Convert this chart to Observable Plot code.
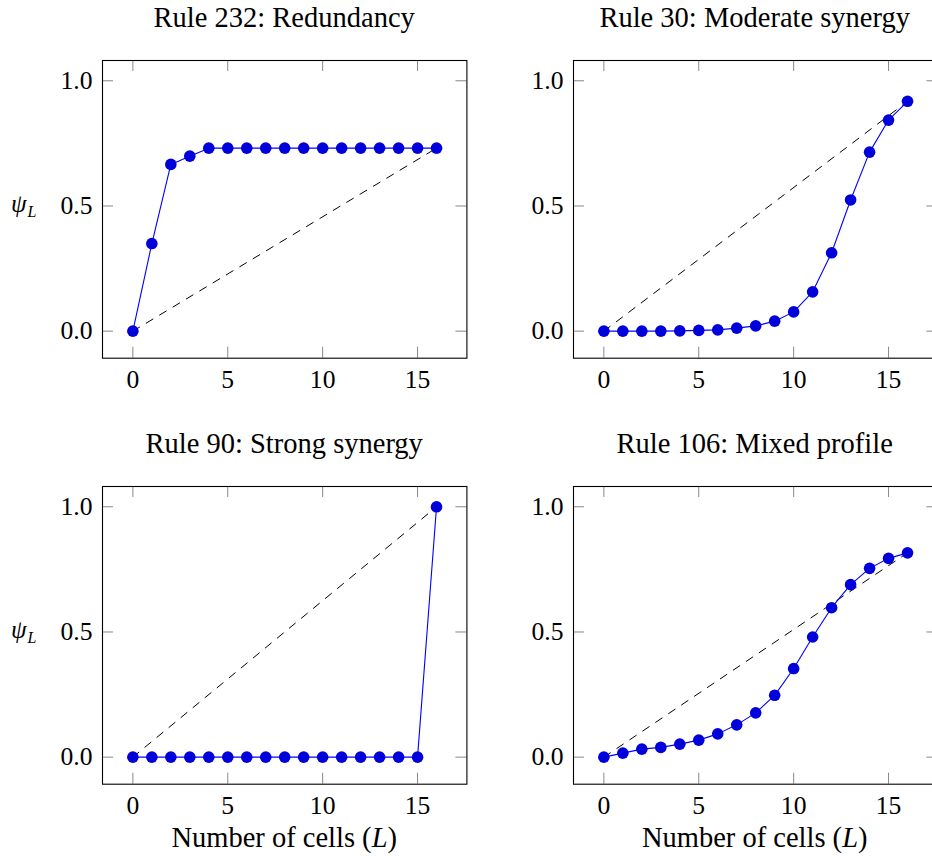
<!DOCTYPE html>
<html><head><meta charset="utf-8">
<script src="https://cdn.jsdelivr.net/npm/d3@7"></script>
<script src="https://cdn.jsdelivr.net/npm/@observablehq/plot@0.6"></script>
<style>
html,body{margin:0;padding:0;background:#fff;}
#root{position:relative;width:932px;height:856px;overflow:hidden;font-family:"Liberation Serif",serif;color:#000;}
.panel{position:absolute;}
.lbl{position:absolute;line-height:1;white-space:nowrap;}
</style></head><body><div id="root"></div>
<script>
// ---- data ----
const cells   = [0, 1, 2, 3, 4, 5, 6, 7, 8, 9, 10, 11, 12, 13, 14, 15, 16];
const rule232 = [0, 0.350, 0.666, 0.699, 0.731, 0.731, 0.731, 0.731, 0.731, 0.731, 0.731, 0.731, 0.731, 0.731, 0.731, 0.731, 0.731];
const rule30  = [0, 0, 0, 0, 0.001, 0.003, 0.005, 0.012, 0.021, 0.040, 0.077, 0.157, 0.313, 0.524, 0.715, 0.843, 0.918];
const rule90  = [0, 0, 0, 0, 0, 0, 0, 0, 0, 0, 0, 0, 0, 0, 0, 0, 1.0];
const rule106 = [0, 0.016, 0.032, 0.039, 0.052, 0.068, 0.093, 0.129, 0.177, 0.247, 0.354, 0.480, 0.597, 0.689, 0.754, 0.794, 0.816];
const titles  = ["Rule 232: Redundancy", "Rule 30: Moderate synergy", "Rule 90: Strong synergy", "Rule 106: Mixed profile"];
const xTicks  = [0, 5, 10, 15];
const yTicks  = [0, 0.5, 1];
const xDomain = [-1.6, 17.6];
const yDomain = [-0.108, 1.081];

// ---- layout ----
const root = document.getElementById("root");
const W = 470.5, ML = 102, PW = 364.4, MT = 60, PH = 297.7, TICK = 11;
const colLeft = [0, 470.5], rowTop = [0, 425.5];
const series = [rule232, rule30, rule90, rule106];
const font = "'Liberation Serif', serif";

series.forEach((vals, i) => {
  const col = i % 2, row = Math.floor(i / 2);
  const H = row === 0 ? 425.5 : 430.5;
  const data = cells.map((L, k) => ({L, psi: vals[k]}));
  const chord = [data[0], data[data.length - 1]];
  const chart = Plot.plot({
    width: W, height: H,
    marginLeft: ML, marginRight: W - ML - PW, marginTop: MT, marginBottom: H - MT - PH,
    x: {domain: xDomain}, y: {domain: yDomain},
    style: {fontFamily: font, fontSize: "25.6px", color: "#000", background: "transparent", maxWidth: "none", overflow: "visible"},
    marks: [
      Plot.tickX(xTicks, {x: d => d, insetTop: PH - TICK, stroke: "#888", strokeWidth: 1}),
      Plot.tickX(xTicks, {x: d => d, insetBottom: PH - TICK, stroke: "#888", strokeWidth: 1}),
      Plot.tickY(yTicks, {y: d => d, insetRight: PW - TICK, stroke: "#888", strokeWidth: 1}),
      Plot.tickY(yTicks, {y: d => d, insetLeft: PW - TICK, stroke: "#888", strokeWidth: 1}),
      Plot.frame({stroke: "#000", strokeWidth: 1.1}),
      Plot.axisX(xTicks, {tickSize: 0, tickPadding: 11.5, tickFormat: d => String(d), label: null, fontSize: 25.6}),
      Plot.axisY(yTicks, {tickSize: 0, tickPadding: 10, tickFormat: d3.format(".1f"), label: null, fontSize: 25.6}),
      Plot.line(chord, {x: "L", y: "psi", stroke: "#000", strokeWidth: 1, strokeDasharray: "7.8 7.8"}),
      Plot.line(data, {x: "L", y: "psi", stroke: "#0000ff", strokeWidth: 1.1}),
      Plot.dot(data, {x: "L", y: "psi", r: 5.8, fill: "#0000db", stroke: "none"})
    ]
  });
  const div = document.createElement("div");
  div.className = "panel";
  div.style.left = colLeft[col] + "px";
  div.style.top = rowTop[row] + "px";
  div.style.width = W + "px";
  div.appendChild(chart);
  root.appendChild(div);

  // title
  const t = document.createElement("div");
  t.className = "lbl";
  t.style.left = (colLeft[col] + ML) + "px";
  t.style.width = PW + "px";
  t.style.textAlign = "center";
  t.style.top = (rowTop[row] + 4.4) + "px";
  t.style.fontSize = "28.5px";
  t.textContent = titles[i];
  root.appendChild(t);

  // y label
  if (col === 0) {
    const yl = document.createElement("div");
    yl.className = "lbl";
    yl.style.left = "11px";
    yl.style.top = (rowTop[row] + 191) + "px";
    yl.style.fontSize = "25px";
    yl.innerHTML = '<i>ψ</i><span style="font-size:16px;position:relative;top:5px;left:1px"><i>L</i></span>';
    root.appendChild(yl);
  }
  // x label
  if (row === 1) {
    const xl = document.createElement("div");
    xl.className = "lbl";
    xl.style.left = (colLeft[col] + ML) + "px";
    xl.style.width = PW + "px";
    xl.style.textAlign = "center";
    xl.style.top = (rowTop[row] + 824.4 - 425.5) + "px";
    xl.style.fontSize = "28.5px";
    xl.innerHTML = 'Number of cells (<i>L</i>)';
    root.appendChild(xl);
  }
});
</script>
</body></html>
